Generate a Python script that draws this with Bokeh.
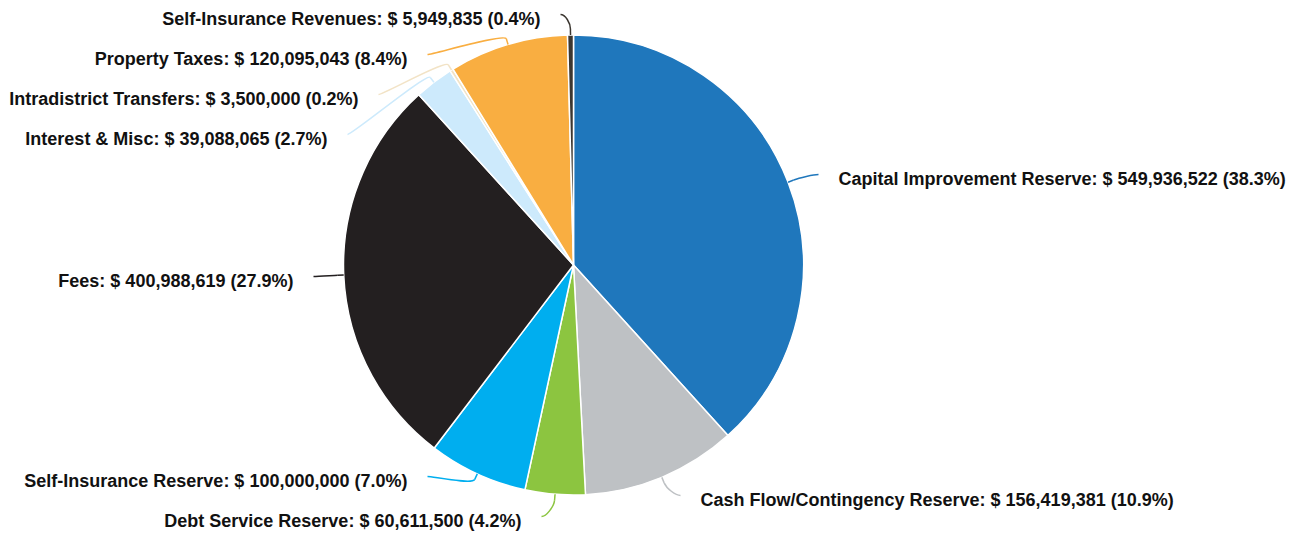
import math
from bokeh.plotting import figure
from bokeh.models import Range1d, ColumnDataSource
from bokeh.core.properties import value
from bokeh.embed import file_html
from bokeh.resources import INLINE

# ---- data ----
categories = [
    "Capital Improvement Reserve",
    "Cash Flow/Contingency Reserve",
    "Debt Service Reserve",
    "Self-Insurance Reserve",
    "Fees",
    "Interest & Misc",
    "Intradistrict Transfers",
    "Property Taxes",
    "Self-Insurance Revenues",
]
amounts = [549936522, 156419381, 60611500, 100000000, 400988619,
           39088065, 3500000, 120095043, 5949835]
colors = ["#1f77bc", "#bec1c4", "#8cc540", "#00aeef", "#231f20",
          "#cdeafc", "#f2e3c6", "#f9ae41", "#3c3731"]

# ---- layout (pixel coords of label text edge / centre line) ----
label_side = ["right", "right", "left", "left", "left", "left", "left", "left", "left"]
label_edge_x = [838, 700, 521, 407, 293, 327, 358, 407, 540]
label_mid_y = [178, 499, 520, 480, 280, 138, 98, 58, 18]

W, H = 1301, 533
CXW, CYW, R = 573, 264.5, 230

def tx(xw):
    return xw

def ty(yw):
    return H - yw

cx, cy = tx(CXW), ty(CYW)

total = float(sum(amounts))
fracs = [a / total for a in amounts]
starts, ends, mids = [], [], []
c = 0.0
for f in fracs:
    starts.append(c)
    mids.append(c + f / 2)
    c += f
    ends.append(c)

p = figure(width=W, height=H, x_range=Range1d(0, W), y_range=Range1d(0, H),
           output_backend="svg", toolbar_location=None, min_border=0,
           background_fill_color="white", border_fill_color="white")
p.axis.visible = False
p.grid.visible = False
p.outline_line_color = None

wsrc = ColumnDataSource(dict(
    start=[math.pi / 2 - 2 * math.pi * s for s in starts],
    end=[math.pi / 2 - 2 * math.pi * e for e in ends],
    color=colors,
))
p.wedge(x=cx, y=cy, radius=R, radius_units="screen", start_angle="start",
        end_angle="end", direction="clock", fill_color="color",
        line_color="white", line_width=1.5, source=wsrc)

# connectors
bx0, by0, bx1, by1, bcx0, bcy0, bcx1, bcy1, bcol = [], [], [], [], [], [], [], [], []
sx0, sy0, sx1, sy1 = [], [], [], []
tx_, ty_, txt, align = [], [], [], []
for i, m in enumerate(mids):
    th = 2 * math.pi * m
    dx, dy = math.sin(th), math.cos(th)
    touch = (cx + R * dx, cy + R * dy)
    brk = (cx + (R + 6) * dx, cy + (R + 6) * dy)
    ctl = (cx + (R + 12) * dx, cy + (R + 12) * dy)
    sgn = 1 if label_side[i] == "right" else -1
    ex = tx(label_edge_x[i] - sgn * 20)
    ey = ty(label_mid_y[i] - 4)
    bx0.append(ex); by0.append(ey)
    bcx0.append(ex - sgn * 5); bcy0.append(ey)
    bcx1.append(ctl[0]); bcy1.append(ctl[1])
    bx1.append(brk[0]); by1.append(brk[1])
    bcol.append(colors[i])
    sx0.append(brk[0]); sy0.append(brk[1]); sx1.append(touch[0]); sy1.append(touch[1])
    tx_.append(tx(label_edge_x[i])); ty_.append(ty(label_mid_y[i]))
    txt.append("%s: $ %s (%.1f%%)" % (categories[i], format(amounts[i], ","), fracs[i] * 100))
    align.append("left" if label_side[i] == "right" else "right")

csrc = ColumnDataSource(dict(x0=bx0, y0=by0, x1=bx1, y1=by1, cx0=bcx0, cy0=bcy0,
                             cx1=bcx1, cy1=bcy1, color=bcol,
                             sx0=sx0, sy0=sy0, sx1=sx1, sy1=sy1))
p.bezier(x0="x0", y0="y0", x1="x1", y1="y1", cx0="cx0", cy0="cy0", cx1="cx1", cy1="cy1",
         line_color="color", line_width=1.5, source=csrc)
p.segment(x0="sx0", y0="sy0", x1="sx1", y1="sy1", line_color="color", line_width=1.5, source=csrc)

tsrc = ColumnDataSource(dict(x=tx_, y=ty_, text=txt, align=align))
p.text(x="x", y="y", text="text", text_align="align", text_baseline="middle",
       text_font=value("Liberation Sans"), text_font_style="bold",
       text_font_size="18px", text_color="#111111", source=tsrc)

open("out.html", "w").write(file_html(p, INLINE))
